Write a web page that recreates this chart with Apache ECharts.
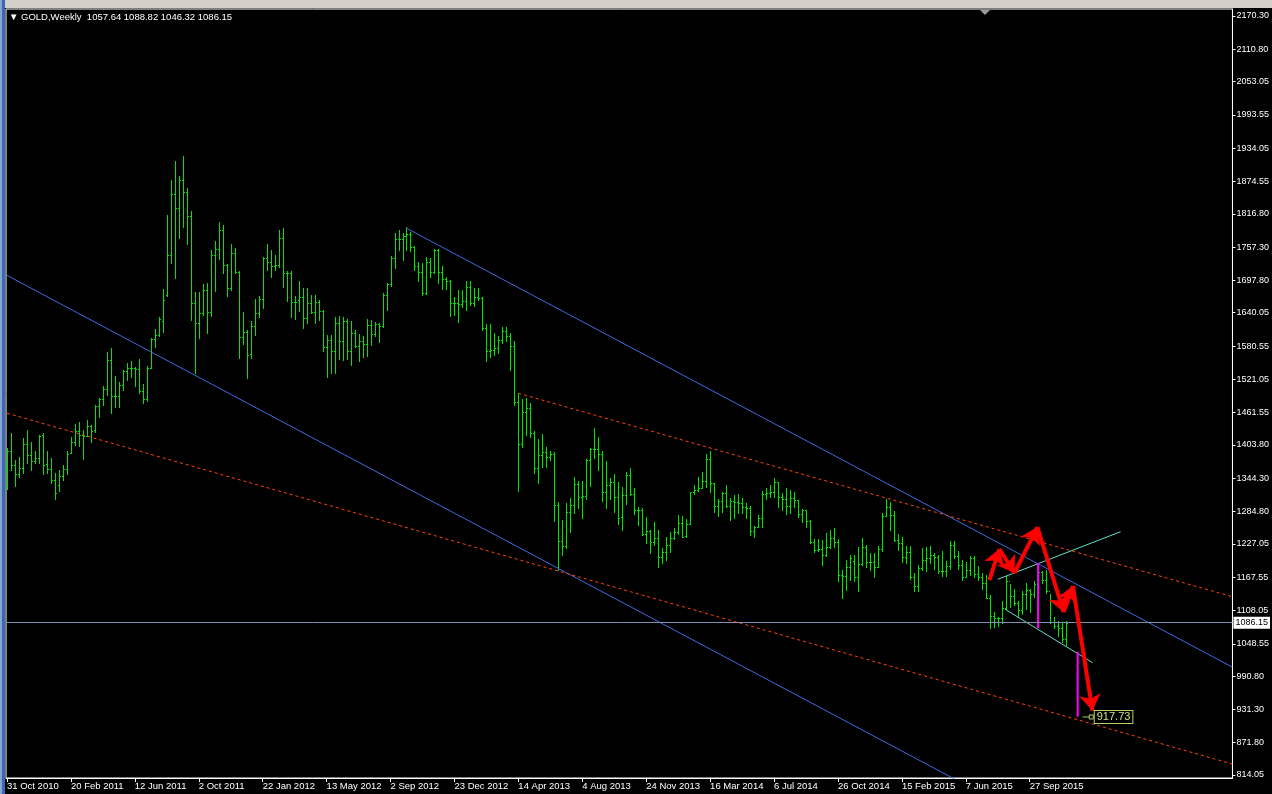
<!DOCTYPE html>
<html><head><meta charset="utf-8">
<script src="https://cdn.jsdelivr.net/npm/echarts@6/dist/echarts.min.js"></script>
<style>html,body{margin:0;padding:0;background:#000;overflow:hidden}#chart{width:1272px;height:794px}</style>
</head><body><div id="chart"></div>
<script>
// ---------- data ----------
const dateLabels = ['31 Oct 2010','20 Feb 2011','12 Jun 2011','2 Oct 2011','22 Jan 2012','13 May 2012','2 Sep 2012','23 Dec 2012','14 Apr 2013','4 Aug 2013','24 Nov 2013','16 Mar 2014','6 Jul 2014','26 Oct 2014','15 Feb 2015','7 Jun 2015','27 Sep 2015'];
const labelWeeks = [0,16,32,48,64,80,96,112,128,144,160,176,192,208,224,240,256];
const priceTicks = [2170.30,2110.80,2053.05,1993.55,1934.05,1874.55,1816.80,1757.30,1697.80,1640.05,1580.55,1521.05,1461.55,1403.80,1344.30,1284.80,1227.05,1167.55,1108.05,1048.55,990.80,931.30,871.80,814.05];

const openP = [1359,1393,1368,1352,1363,1406,1385,1376,1380,1421,1369,1361,1342,1333,1349,1361,1390,1409,1429,1421,1420,1437,1430,1474,1486,1504,1556,1491,1492,1511,1536,1542,1541,1539,1501,1486,1542,1594,1601,1626,1672,1743,1852,1827,1877,1856,1813,1657,1622,1639,1681,1641,1743,1754,1788,1725,1685,1747,1713,1597,1606,1566,1616,1639,1664,1738,1731,1724,1725,1774,1711,1711,1659,1662,1668,1631,1657,1642,1660,1644,1579,1592,1572,1622,1590,1626,1572,1604,1580,1590,1585,1618,1602,1620,1616,1671,1692,1737,1772,1772,1777,1780,1758,1724,1712,1676,1731,1713,1752,1713,1701,1696,1658,1658,1656,1661,1686,1658,1668,1666,1612,1572,1574,1577,1592,1607,1598,1580,1480,1405,1462,1470,1425,1363,1386,1392,1383,1388,1296,1232,1223,1284,1296,1334,1310,1313,1377,1396,1396,1387,1320,1333,1338,1310,1275,1315,1350,1316,1287,1288,1244,1250,1230,1238,1203,1213,1225,1237,1248,1265,1242,1263,1319,1323,1326,1339,1379,1335,1294,1303,1318,1294,1303,1301,1300,1293,1292,1250,1258,1274,1316,1318,1320,1337,1310,1307,1294,1309,1305,1280,1287,1268,1230,1216,1218,1207,1222,1238,1231,1171,1169,1185,1196,1167,1191,1222,1195,1195,1186,1217,1277,1293,1279,1234,1228,1203,1212,1167,1152,1184,1199,1201,1207,1203,1179,1178,1188,1225,1205,1190,1168,1180,1201,1173,1168,1157,1131,1098,1095,1094,1113,1160,1134,1121,1108,1138,1145,1137,1156,1176,1163,1142,1088,1081,1076,1057.64];
const highP = [1398,1425,1377,1382,1416,1431,1409,1393,1421,1425,1393,1380,1354,1359,1368,1393,1418,1441,1445,1430,1448,1439,1475,1487,1509,1570,1577,1527,1516,1538,1550,1554,1543,1558,1512,1545,1595,1611,1632,1682,1815,1877,1911,1884,1920,1863,1822,1677,1677,1691,1693,1752,1768,1802,1797,1728,1763,1756,1715,1641,1610,1625,1664,1670,1740,1763,1752,1743,1788,1792,1715,1715,1670,1697,1684,1684,1672,1672,1663,1645,1600,1600,1632,1634,1632,1628,1625,1609,1602,1598,1629,1627,1623,1622,1675,1693,1741,1782,1788,1782,1793,1784,1760,1731,1729,1740,1737,1754,1754,1724,1704,1698,1668,1681,1681,1697,1697,1684,1684,1668,1620,1620,1604,1598,1614,1614,1604,1590,1497,1486,1488,1479,1428,1414,1423,1400,1393,1391,1302,1270,1300,1309,1347,1340,1340,1379,1398,1434,1418,1393,1375,1345,1352,1338,1329,1355,1362,1327,1293,1291,1275,1252,1266,1252,1220,1239,1248,1255,1278,1277,1272,1320,1332,1346,1355,1387,1393,1336,1307,1320,1332,1309,1314,1316,1309,1300,1295,1259,1278,1322,1327,1332,1345,1338,1318,1327,1323,1320,1306,1289,1288,1270,1236,1236,1234,1246,1252,1255,1236,1180,1198,1207,1207,1222,1238,1225,1210,1210,1224,1282,1307,1302,1285,1245,1240,1223,1223,1175,1190,1219,1221,1224,1210,1207,1214,1196,1232,1232,1214,1198,1195,1205,1205,1188,1175,1171,1135,1105,1097,1125,1170,1155,1146,1125,1142,1157,1147,1160,1191,1178,1180,1138,1097,1089,1085,1088.82];
const lowP = [1325,1359,1330,1346,1353,1371,1359,1371,1371,1352,1353,1336,1307,1322,1341,1352,1389,1404,1402,1379,1420,1409,1427,1453,1475,1493,1461,1472,1472,1502,1520,1525,1509,1496,1478,1482,1541,1579,1598,1606,1670,1729,1702,1774,1793,1763,1627,1532,1595,1636,1604,1634,1679,1736,1711,1670,1680,1711,1559,1584,1523,1560,1600,1632,1648,1716,1704,1716,1722,1686,1661,1632,1629,1643,1613,1622,1640,1622,1627,1572,1525,1532,1532,1557,1555,1557,1547,1579,1554,1561,1563,1582,1598,1588,1614,1645,1688,1720,1752,1734,1752,1750,1716,1697,1672,1673,1704,1711,1693,1682,1682,1634,1636,1624,1650,1645,1654,1652,1662,1609,1554,1561,1565,1568,1586,1590,1538,1475,1321,1400,1422,1418,1354,1336,1364,1364,1377,1268,1180,1207,1220,1248,1282,1291,1273,1308,1330,1380,1359,1304,1291,1307,1284,1263,1251,1298,1314,1280,1261,1243,1229,1211,1225,1186,1193,1198,1212,1236,1245,1239,1240,1262,1316,1321,1326,1328,1320,1284,1277,1284,1293,1270,1273,1282,1282,1273,1243,1239,1257,1257,1307,1311,1311,1293,1288,1280,1282,1293,1275,1266,1257,1228,1212,1214,1189,1205,1220,1221,1160,1130,1145,1162,1161,1142,1189,1186,1180,1167,1185,1215,1276,1252,1232,1216,1195,1192,1165,1142,1143,1180,1178,1192,1183,1175,1170,1170,1182,1201,1182,1162,1167,1172,1168,1162,1146,1130,1077,1078,1080,1085,1110,1115,1117,1098,1102,1110,1105,1133,1150,1158,1140,1085,1077,1062,1052,1046.32];
const closeP = [1393,1368,1352,1362,1406,1385,1375,1380,1420,1368,1360,1342,1318,1348,1361,1388,1409,1429,1421,1419,1437,1429,1473,1486,1504,1556,1491,1492,1511,1536,1542,1541,1539,1501,1486,1542,1594,1601,1628,1663,1743,1852,1827,1877,1856,1813,1657,1622,1639,1681,1641,1743,1754,1788,1725,1685,1747,1713,1597,1606,1565,1616,1639,1664,1738,1731,1724,1725,1774,1711,1711,1659,1660,1668,1631,1657,1642,1660,1644,1579,1592,1572,1622,1590,1626,1572,1604,1580,1590,1585,1618,1602,1620,1616,1671,1692,1737,1772,1772,1777,1780,1758,1724,1712,1676,1731,1713,1752,1713,1701,1696,1658,1658,1656,1661,1686,1658,1668,1666,1612,1572,1574,1577,1592,1607,1598,1580,1480,1405,1462,1470,1425,1363,1386,1392,1383,1388,1296,1232,1223,1284,1296,1334,1310,1313,1377,1396,1396,1387,1320,1333,1338,1310,1273,1315,1350,1316,1287,1288,1244,1250,1230,1238,1203,1213,1225,1237,1248,1265,1240,1263,1319,1323,1326,1339,1379,1335,1294,1303,1318,1294,1303,1301,1300,1293,1292,1250,1258,1274,1316,1318,1320,1337,1310,1307,1294,1309,1305,1280,1287,1268,1230,1216,1218,1207,1222,1238,1231,1171,1169,1185,1201,1167,1191,1222,1195,1195,1186,1217,1277,1293,1279,1234,1228,1203,1212,1167,1152,1184,1199,1201,1207,1203,1179,1178,1188,1225,1205,1190,1168,1180,1201,1173,1168,1157,1131,1098,1095,1094,1113,1160,1134,1121,1108,1138,1145,1137,1156,1176,1163,1142,1088,1081,1076,1057,1086.15];

// drawn objects on the chart, as [week index, price] pairs
const blueTrend1 = [[0, 1706.8], [240, 796.2]];
const blueTrend2 = [[99.9, 1791.5], [306.75, 1006.7]];
const redDotted1 = [[0, 1460.6], [306.75, 833.6]];
const redDotted2 = [[128, 1496.1], [306.75, 1132.6]];
const cyanUpper = [[248.0, 1163.7], [278.75, 1248.8]];
const cyanLower = [[249.85, 1110.1], [271.75, 1014.6]];
const magenta1 = [[258.1, 1192.8], [258.1, 1076.5]];
const magenta2 = [[268.0, 1034.3], [268.0, 918.2]];
const zigzag = [[245.9, 1162.4], [248.4, 1217.9], [252.2, 1175.0], [257.9, 1257.1], [264.5, 1105.2], [266.8, 1151.7], [271.7, 928.9]];
const lastPrice = 1086.15;
const targetPrice = 917.73;
const targetWeeks = [269.2, 271.4];

// ---------- chart ----------
const BAR = '#00e400';
const ohlc = openP.map((o, i) => [i, o, highP[i], lowP[i], closeP[i]]);
const n = ohlc.length - 1;
const header = '\u25BC GOLD,Weekly  ' + [openP[n], highP[n], lowP[n], closeP[n]].map(v => v.toFixed(2)).join(' ');

function renderBar(params, api) {
  const i = api.value(0);
  const o = api.coord([i, api.value(1)]);
  const h = api.coord([i, api.value(2)]);
  const l = api.coord([i, api.value(3)]);
  const c = api.coord([i, api.value(4)]);
  const x = Math.round(o[0]);
  const yh = Math.round(h[1]), yl = Math.round(l[1]);
  const st = { fill: BAR };
  return { type: 'group', children: [
    { type: 'rect', shape: { x: x, y: yh, width: 1, height: Math.max(1, yl - yh + 1) }, style: st },
    { type: 'rect', shape: { x: x - 1, y: Math.round(o[1]), width: 1, height: 1 }, style: st },
    { type: 'rect', shape: { x: x + 1, y: Math.round(c[1]), width: 1, height: 1 }, style: st }
  ] };
}

function trend(data, color, type, width, z) {
  return { type: 'line', data: data, showSymbol: false, silent: true, clip: true, z: z || 3,
    lineStyle: { color: color, width: width || 1, type: type || 'solid' }, animation: false };
}

const segs = [];
for (let k = 0; k < zigzag.length - 1; k++) segs.push({ coords: [zigzag[k], zigzag[k + 1]] });

const chart = echarts.init(document.getElementById('chart'), null, { renderer: 'canvas' });
chart.setOption({
  backgroundColor: '#000',
  animation: false,
  textStyle: { fontFamily: 'Liberation Sans' },
  graphic: [
    { type: 'rect', left: 0, top: 0, shape: { width: 1272, height: 8 }, style: { fill: '#d4d0c8' }, z: 100 },
    { type: 'rect', left: 0, top: 0, shape: { width: 5, height: 794 }, style: { fill: '#3a68b8' }, z: 100 },
    { type: 'rect', left: 0, top: 0, shape: { width: 2, height: 794 }, style: { fill: '#8aa4d0' }, z: 101 },
    { type: 'polygon', shape: { points: [[980, 10], [990, 10], [985, 15]] }, style: { fill: '#9a9a9a' }, z: 100 },
    { type: 'text', left: 9, top: 12, style: { text: header, fill: '#fff', font: '9.5px "Liberation Sans"' }, z: 100 }
  ],
  grid: { left: 6, right: 38, top: 9, bottom: 16, show: true, borderColor: '#fff', borderWidth: 1, backgroundColor: '#000' },
  xAxis: {
    type: 'value', min: -0.25, max: 306.75,
    axisLine: { show: true, onZero: false, lineStyle: { color: '#fff' } },
    splitLine: { show: false },
    axisTick: { show: true, length: 4, customValues: labelWeeks, lineStyle: { color: '#fff' } },
    axisLabel: { customValues: labelWeeks, formatter: v => dateLabels[labelWeeks.indexOf(Math.round(v))] || '',
      align: 'left', color: '#fff', fontSize: 9.5, fontFamily: 'Liberation Sans', margin: 3, showMinLabel: true, showMaxLabel: true }
  },
  yAxis: {
    type: 'value', position: 'right', min: 808.69, max: 2182.81,
    axisLine: { show: true, onZero: false, lineStyle: { color: '#fff' } },
    splitLine: { show: false },
    axisTick: { show: true, length: 3, customValues: priceTicks, lineStyle: { color: '#fff' } },
    axisLabel: { customValues: priceTicks, formatter: v => v.toFixed(2), color: '#fff', fontSize: 9, fontFamily: 'Liberation Sans', margin: 4 }
  },
  series: [
    { type: 'custom', name: 'GOLD', data: ohlc, renderItem: renderBar, encode: { x: 0, y: [1, 2, 3, 4] }, z: 2, silent: true,
      markLine: { symbol: 'none', silent: true, animation: false, data: [{ yAxis: lastPrice }],
        lineStyle: { color: '#7d90b4', width: 1, type: 'solid' },
        label: { position: 'end', formatter: () => lastPrice.toFixed(2), backgroundColor: '#fff', color: '#000',
          fontSize: 9, fontFamily: 'Liberation Sans', padding: [2, 2, 1, 2], distance: 1 } } },
    trend(blueTrend1, '#4169e1'),
    trend(blueTrend2, '#4169e1'),
    trend(redDotted1, '#ff4500', [3, 3]),
    trend(redDotted2, '#ff4500', [3, 3]),
    trend(cyanUpper, '#5fe0c8'),
    trend(cyanLower, '#5fe0c8'),
    trend(magenta1, '#ff00ff', 'solid', 2, 4),
    trend(magenta2, '#ff00ff', 'solid', 2, 4),
    { type: 'lines', coordinateSystem: 'cartesian2d', data: segs, silent: true, z: 6,
      lineStyle: { color: '#ff0000', width: 4, opacity: 1, curveness: 0 },
      symbol: ['none', 'arrow'], symbolSize: 16, effect: { show: false } },
    { type: 'line', silent: true, z: 7, clip: false,
      lineStyle: { color: '#a8c858', width: 1 },
      data: [
        { value: [targetWeeks[0], targetPrice], symbol: 'none' },
        { value: [targetWeeks[1], targetPrice], symbol: 'rect', symbolSize: 4,
          itemStyle: { color: '#000', borderColor: '#b8d068', borderWidth: 1 },
          label: { show: true, position: 'right', distance: 1, formatter: () => targetPrice.toFixed(2),
            color: '#c8e080', backgroundColor: '#000', borderColor: '#b8d068', borderWidth: 1,
            padding: [1, 2, 0, 2], fontSize: 11, fontFamily: 'Liberation Sans' } }
      ], showSymbol: true }
  ]
});
</script></body></html>
